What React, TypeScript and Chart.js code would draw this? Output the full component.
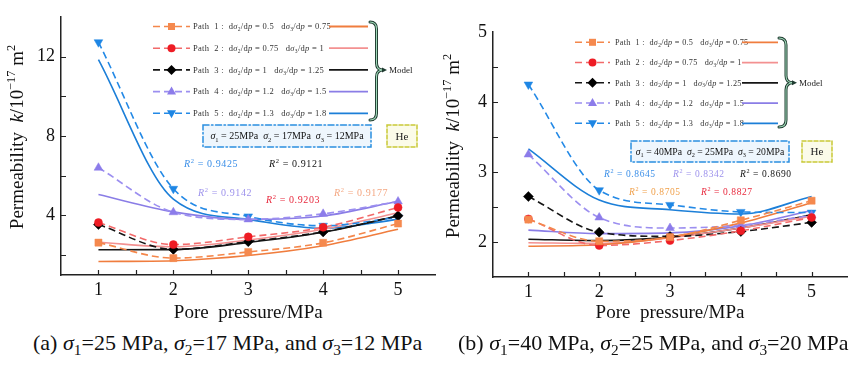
import React, { useEffect, useRef } from 'react';
import { Chart, registerables } from 'chart.js';
Chart.register(...registerables);

const SERIF = '"Liberation Serif", "Times New Roman", serif';

// ---------- data ----------
const porePressure = [1, 2, 3, 4, 5];
const xTicks = [1, 1.5, 2, 2.5, 3, 3.5, 4, 4.5, 5];
const xLabels = [1, 2, 3, 4, 5];
const yTicksA = [2, 4, 6, 8, 10, 12];
const yLabelsA = [4, 8, 12];
const yTicksB = [2, 2.5, 3, 3.5, 4, 4.5];
const yLabelsB = [2, 3, 4, 5];

const pathNumbers = [1, 2, 3, 4, 5];
const dSigma2 = ['0.5', '0.75', '1', '1.2', '1.3'];
const dSigma3 = ['0.75', '1', '1.25', '1.5', '1.8'];

// panel (a): measured
const aPath1 = [2.63, 1.85, 2.16, 2.62, 3.59];
const aPath2 = [3.64, 2.53, 2.92, 3.4, 4.4];
const aPath3 = [3.54, 2.29, 2.68, 3.17, 3.98];
const aPath4 = [6.4, 4.16, 3.8, 4.08, 4.7];
const aPath5 = [12.72, 5.34, 3.95, 3.48, 3.9];
// panel (a): model
const aModel1 = [1.68, 1.72, 1.98, 2.47, 3.3];
const aModel2 = [2.65, 2.42, 2.76, 3.3, 4.13];
const aModel3 = [2.27, 2.28, 2.64, 3.15, 3.97];
const aModel4 = [5.05, 4.18, 3.8, 3.97, 4.71];
const aModel5 = [11.84, 4.82, 3.8, 3.35, 3.8];
const r2A = ['0.9177', '0.9203', '0.9121', '0.9142', '0.9425'];
const stressA = ['25', '17', '12'];

// panel (b): measured
const bPath1 = [2.32, 2.01, 2.07, 2.31, 2.59];
const bPath2 = [2.33, 1.95, 2.02, 2.16, 2.35];
const bPath3 = [2.65, 2.14, 2.08, 2.15, 2.28];
const bPath4 = [3.25, 2.35, 2.2, 2.24, 2.38];
const bPath5 = [4.25, 2.74, 2.53, 2.43, 2.42];
// panel (b): model
const bModel1 = [1.94, 1.96, 2.07, 2.27, 2.56];
const bModel2 = [1.99, 1.98, 2.06, 2.2, 2.37];
const bModel3 = [2.04, 2.02, 2.07, 2.2, 2.39];
const bModel4 = [2.17, 2.12, 2.13, 2.23, 2.45];
const bModel5 = [3.33, 2.6, 2.46, 2.4, 2.65];
const r2B = ['0.8705', '0.8827', '0.8690', '0.8342', '0.8645'];
const stressB = ['40', '25', '20'];

// ---------- styles ----------
const pathStyles = [
  { line: '#f4874b', marker: '#f5894e', model: '#f07d3e', point: 'rect', radius: 5, rot: 0 },
  { line: '#f26a6a', marker: '#ee1c24', model: '#f39191', point: 'circle', radius: 4, rot: 0 },
  { line: '#151515', marker: '#000000', model: '#151515', point: 'rectRot', radius: 5, rot: 0 },
  { line: '#9c8ff0', marker: '#8c7cea', model: '#8a7de6', point: 'triangle', radius: 5, rot: 0 },
  { line: '#2389e6', marker: '#1e86e4', model: '#1c7fd8', point: 'triangle', radius: 5, rot: 180 },
];

type Seg = { t: string; i?: boolean; sub?: boolean; sup?: boolean };

function drawRich(
  ctx: CanvasRenderingContext2D, segs: Seg[], x: number, y: number, size: number,
  color: string, align: 'left' | 'center' = 'left', spacing = 0
) {
  const c: any = ctx;
  const parts = segs.map((s) => {
    const fs = s.sub || s.sup ? size * 0.65 : size;
    const font = `${s.i ? 'italic ' : ''}${fs}px ${SERIF}`;
    ctx.font = font;
    c.letterSpacing = `${spacing}px`;
    return { s, font, w: ctx.measureText(s.t).width };
  });
  const total = parts.reduce((a, p) => a + p.w, 0);
  let cx = align === 'center' ? x - total / 2 : x;
  ctx.fillStyle = color;
  ctx.textAlign = 'left';
  ctx.textBaseline = 'alphabetic';
  for (const p of parts) {
    ctx.font = p.font;
    c.letterSpacing = `${spacing}px`;
    const dy = p.s.sub ? size * 0.22 : p.s.sup ? -size * 0.42 : 0;
    ctx.fillText(p.s.t, cx, y + dy);
    cx += p.w;
  }
  c.letterSpacing = '0px';
}

function drawMarker(ctx: CanvasRenderingContext2D, idx: number, x: number, y: number) {
  const st = pathStyles[idx];
  ctx.fillStyle = st.marker;
  ctx.beginPath();
  if (st.point === 'rect') ctx.rect(x - 3.5, y - 3.5, 7, 7);
  else if (st.point === 'circle') ctx.arc(x, y, 4, 0, Math.PI * 2);
  else if (st.point === 'rectRot') {
    ctx.moveTo(x, y - 5); ctx.lineTo(x + 5, y); ctx.lineTo(x, y + 5); ctx.lineTo(x - 5, y);
  } else if (st.rot === 0) {
    ctx.moveTo(x, y - 5); ctx.lineTo(x + 4.5, y + 3); ctx.lineTo(x - 4.5, y + 3);
  } else {
    ctx.moveTo(x, y + 5); ctx.lineTo(x + 4.5, y - 3); ctx.lineTo(x - 4.5, y - 3);
  }
  ctx.closePath();
  ctx.fill();
}

const legendSegs = (n: number, a: string, b: string): Seg[] => [
  { t: `Path  ${n} :  d` }, { t: 'σ', i: true }, { t: '2', sub: true }, { t: '/d' }, { t: 'p', i: true },
  { t: ` = ${a}   d` }, { t: 'σ', i: true }, { t: '3', sub: true }, { t: '/d' }, { t: 'p', i: true },
  { t: ` = ${b}` },
];

const stressSegs = (v: string[]): Seg[] => [
  { t: 'σ', i: true }, { t: '1', sub: true }, { t: ` = ${v[0]}MPa  ` },
  { t: 'σ', i: true }, { t: '2', sub: true }, { t: ` = ${v[1]}MPa  ` },
  { t: 'σ', i: true }, { t: '3', sub: true }, { t: ` = ${v[2]}MPa` },
];

const panelA = {
  left: 0, width: 441, height: 330, padTop: 13, padRight: 2, yW: 61, xH: 55,
  yMin: 1, yMax: 14, yTicks: yTicksA, yLabels: yLabelsA,
  exp: [aPath1, aPath2, aPath3, aPath4, aPath5],
  model: [aModel1, aModel2, aModel3, aModel4, aModel5],
  yTitle: { x: 23, y: 137 },
  legend: { x0: 153, x1: 190, tx: 193, s0: 329, s1: 368, y0: 26.5, dy: 21.7, font: 8.5 },
  brace: { x0: 370, x1: 383, top: 22, mid: 70, bottom: 120 },
  box: { x0: 203, x1: 371, y0: 125, y1: 147, font: 10 }, stress: stressA,
  he: { x0: 387, x1: 417 },
  r2: r2A, r2Pos: [[334, 193], [266, 200], [269, 164], [198, 193], [184, 164]],
  r2Colors: ['#f4a883', '#e8283c', '#111111', '#9d92ec', '#3b8fe8'], r2Font: 10,
};

const panelB = {
  left: 432, width: 433, height: 330, padTop: 32, padRight: 18, yW: 61, xH: 53,
  yMin: 1.5, yMax: 5, yTicks: yTicksB, yLabels: yLabelsB,
  exp: [bPath1, bPath2, bPath3, bPath4, bPath5],
  model: [bModel1, bModel2, bModel3, bModel4, bModel5],
  yTitle: { x: 459, y: 146 },
  legend: { x0: 575, x1: 610, tx: 615, s0: 742, s1: 778, y0: 42.3, dy: 20.25, font: 8.2 },
  brace: { x0: 779, x1: 793, top: 38, mid: 82.7, bottom: 127 },
  box: { x0: 631, x1: 789, y0: 141, y1: 162, font: 9.7 }, stress: stressB,
  he: { x0: 802, x1: 832 },
  r2: r2B, r2Pos: [[629, 192], [701, 192], [740, 173.5], [673, 173.5], [604, 173.5]],
  r2Colors: ['#f0a04a', '#e8283c', '#111111', '#9d92ec', '#3b8fe8'], r2Font: 9.5,
};

type PanelCfg = typeof panelA;

function Panel({ cfg }: { cfg: PanelCfg }) {
  const ref = useRef<HTMLCanvasElement>(null);
  useEffect(() => {
    const ox = cfg.left;
    const decor = {
      id: 'decor',
      afterDraw(chart: any) {
        const ctx: CanvasRenderingContext2D = chart.ctx;
        const xs = chart.scales.x;
        const ys = chart.scales.y;
        const area = chart.chartArea;
        ctx.save();
        // inward ticks
        ctx.strokeStyle = '#222';
        ctx.lineWidth = 1.2;
        ctx.beginPath();
        for (const v of xTicks) {
          const px = Math.round(xs.getPixelForValue(v)) + 0.5;
          ctx.moveTo(px, area.bottom);
          ctx.lineTo(px, area.bottom - 5);
        }
        for (const v of cfg.yTicks) {
          const py = Math.round(ys.getPixelForValue(v)) + 0.5;
          ctx.moveTo(area.left, py);
          ctx.lineTo(area.left + 5, py);
        }
        ctx.stroke();

        // y title
        ctx.save();
        ctx.translate(cfg.yTitle.x - ox, cfg.yTitle.y);
        ctx.rotate(-Math.PI / 2);
        drawRich(ctx, [
          { t: 'Permeability  ' }, { t: 'k', i: true }, { t: '/10' }, { t: '−17', sup: true },
          { t: ' m' }, { t: '2', sup: true },
        ], 0, 0, 19, '#111', 'center');
        ctx.restore();

        // legend
        const L = cfg.legend;
        for (let i = 0; i < 5; i++) {
          const y = L.y0 + i * L.dy;
          const st = pathStyles[i];
          ctx.strokeStyle = st.line;
          ctx.lineWidth = 1.6;
          ctx.setLineDash([7, 4]);
          ctx.beginPath();
          ctx.moveTo(L.x0 - ox, y);
          ctx.lineTo(L.x1 - ox, y);
          ctx.stroke();
          ctx.setLineDash([]);
          drawMarker(ctx, i, (L.x0 + L.x1) / 2 - ox, y);
          drawRich(ctx, legendSegs(pathNumbers[i], dSigma2[i], dSigma3[i]), L.tx - ox, y + L.font * 0.33, L.font, '#333', 'left', 0.3);
          ctx.strokeStyle = st.model;
          ctx.lineWidth = 1.8;
          ctx.beginPath();
          ctx.moveTo(L.s0 - ox, y);
          ctx.lineTo(L.s1 - ox, y);
          ctx.stroke();
        }

        // brace
        const B = cfg.brace;
        const bx0 = B.x0 - ox, bx1 = B.x1 - ox, xm = (bx0 + bx1) / 2, r = 7;
        const bracePath = () => {
          ctx.beginPath();
          ctx.moveTo(bx0, B.top);
          ctx.quadraticCurveTo(xm, B.top, xm, B.top + r);
          ctx.lineTo(xm, B.mid - r);
          ctx.quadraticCurveTo(xm, B.mid, bx1, B.mid);
          ctx.quadraticCurveTo(xm, B.mid, xm, B.mid + r);
          ctx.lineTo(xm, B.bottom - r);
          ctx.quadraticCurveTo(xm, B.bottom, bx0, B.bottom);
        };
        ctx.lineCap = 'round';
        bracePath();
        ctx.strokeStyle = '#1f3b30';
        ctx.lineWidth = 3;
        ctx.stroke();
        bracePath();
        ctx.strokeStyle = '#9fd8b8';
        ctx.lineWidth = 1.1;
        ctx.stroke();
        ctx.fillStyle = '#1f3b30';
        ctx.beginPath();
        ctx.moveTo(bx1 + 4, B.mid);
        ctx.lineTo(bx1 - 1, B.mid - 2.5);
        ctx.lineTo(bx1 - 1, B.mid + 2.5);
        ctx.closePath();
        ctx.fill();
        drawRich(ctx, [{ t: 'Model' }], bx1 + 6, B.mid + 3, 9, '#222');

        // stress box
        const X = cfg.box;
        ctx.fillStyle = '#eef6fd';
        ctx.fillRect(X.x0 - ox, X.y0, X.x1 - X.x0, X.y1 - X.y0);
        ctx.strokeStyle = '#2a8fe0';
        ctx.lineWidth = 1.5;
        ctx.setLineDash([6, 2.5, 1.5, 2.5]);
        ctx.strokeRect(X.x0 - ox, X.y0, X.x1 - X.x0, X.y1 - X.y0);
        ctx.setLineDash([]);
        drawRich(ctx, stressSegs(cfg.stress), (X.x0 + X.x1) / 2 - ox, (X.y0 + X.y1) / 2 + X.font * 0.33, X.font, '#111', 'center');

        // He box
        const H = cfg.he;
        ctx.fillStyle = '#fbfbe9';
        ctx.fillRect(H.x0 - ox, X.y0, H.x1 - H.x0, X.y1 - X.y0);
        ctx.strokeStyle = '#c9c936';
        ctx.setLineDash([4, 2]);
        ctx.strokeRect(H.x0 - ox, X.y0, H.x1 - H.x0, X.y1 - X.y0);
        ctx.setLineDash([]);
        drawRich(ctx, [{ t: 'He' }], (H.x0 + H.x1) / 2 - ox, (X.y0 + X.y1) / 2 + 3.6, 11, '#222', 'center');

        // R² labels
        for (let i = 0; i < 5; i++) {
          const [px, py] = cfg.r2Pos[i];
          drawRich(ctx, [{ t: 'R', i: true }, { t: '2', sup: true }, { t: ` = ${cfg.r2[i]}` }],
            px - ox, py + cfg.r2Font * 0.33, cfg.r2Font, cfg.r2Colors[i], 'left', 0.6);
        }
        ctx.restore();
      },
    };

    const toPts = (vals: number[]) => porePressure.map((p, i) => ({ x: p, y: vals[i] }));
    const expSets = cfg.exp.map((vals, i) => ({
      data: toPts(vals),
      borderColor: pathStyles[i].line,
      borderDash: [7, 4],
      borderWidth: 1.6,
      pointStyle: pathStyles[i].point,
      pointRotation: pathStyles[i].rot,
      pointRadius: pathStyles[i].radius,
      pointBackgroundColor: pathStyles[i].marker,
      pointBorderColor: pathStyles[i].marker,
      pointBorderWidth: 0.5,
      cubicInterpolationMode: 'monotone',
      fill: false,
    }));
    const modelSets = cfg.model.map((vals, i) => ({
      data: toPts(vals),
      borderColor: pathStyles[i].model,
      borderWidth: 1.6,
      pointRadius: 0,
      cubicInterpolationMode: 'monotone',
      fill: false,
    }));

    const tickFont = { family: SERIF, size: 18 };
    const chart = new Chart(ref.current as HTMLCanvasElement, {
      type: 'line',
      data: { datasets: [...expSets, ...modelSets] as any },
      options: {
        animation: false,
        responsive: false,
        devicePixelRatio: 1,
        layout: { padding: { left: 0, top: cfg.padTop, right: cfg.padRight, bottom: 0 } },
        plugins: { legend: { display: false }, tooltip: { enabled: false } },
        scales: {
          x: {
            type: 'linear', min: 0.5, max: 5.5,
            afterBuildTicks: (s: any) => { s.ticks = xTicks.map((v) => ({ value: v })); },
            afterFit: (s: any) => { s.height = cfg.xH; },
            ticks: {
              autoSkip: false, maxRotation: 0, padding: 4, color: '#111', font: tickFont,
              callback: (v: any) => (xLabels.includes(Number(v)) ? String(v) : ''),
            },
            grid: { drawOnChartArea: false, drawTicks: false },
            border: { color: '#222', width: 1.5 },
            title: {
              display: true, text: 'Pore  pressure/MPa', color: '#111',
              font: { family: SERIF, size: 19 }, padding: { top: 0, bottom: 6 },
            },
          },
          y: {
            type: 'linear', min: cfg.yMin, max: cfg.yMax,
            afterBuildTicks: (s: any) => {
              const vals = Array.from(new Set([...cfg.yTicks, ...cfg.yLabels])).sort((a, b) => a - b);
              s.ticks = vals.map((v) => ({ value: v }));
            },
            afterFit: (s: any) => { s.width = cfg.yW; },
            ticks: {
              autoSkip: false, padding: 6, color: '#111', font: tickFont,
              callback: (v: any) => (cfg.yLabels.includes(Number(v)) ? String(v) : ''),
            },
            grid: { drawOnChartArea: false, drawTicks: false },
            border: { color: '#222', width: 1.5 },
          },
        },
      } as any,
      plugins: [decor],
    });
    return () => chart.destroy();
  }, [cfg]);
  return (
    <canvas
      ref={ref}
      width={cfg.width}
      height={cfg.height}
      style={{ position: 'absolute', left: cfg.left, top: 0, width: cfg.width, height: cfg.height }}
    />
  );
}

const subStyle: React.CSSProperties = { fontSize: '0.7em', verticalAlign: 'sub', lineHeight: 0 };

function Caption({ left, tag, v }: { left: number; tag: string; v: string[] }) {
  return (
    <div style={{ position: 'absolute', left, top: 330, font: `22px ${SERIF}`, lineHeight: '25px', whiteSpace: 'nowrap', color: '#111' }}>
      ({tag}) <i>σ</i><span style={subStyle}>1</span>={v[0]} MPa, <i>σ</i><span style={subStyle}>2</span>={v[1]} MPa, and <i>σ</i><span style={subStyle}>3</span>={v[2]} MPa
    </div>
  );
}

export default function App() {
  return (
    <div style={{ position: 'absolute', left: 0, top: 0, width: 865, height: 371, background: '#fff', overflow: 'hidden' }}>
      <Panel cfg={panelA} />
      <Panel cfg={panelB} />
      <Caption left={33} tag="a" v={stressA} />
      <Caption left={458} tag="b" v={stressB} />
    </div>
  );
}
